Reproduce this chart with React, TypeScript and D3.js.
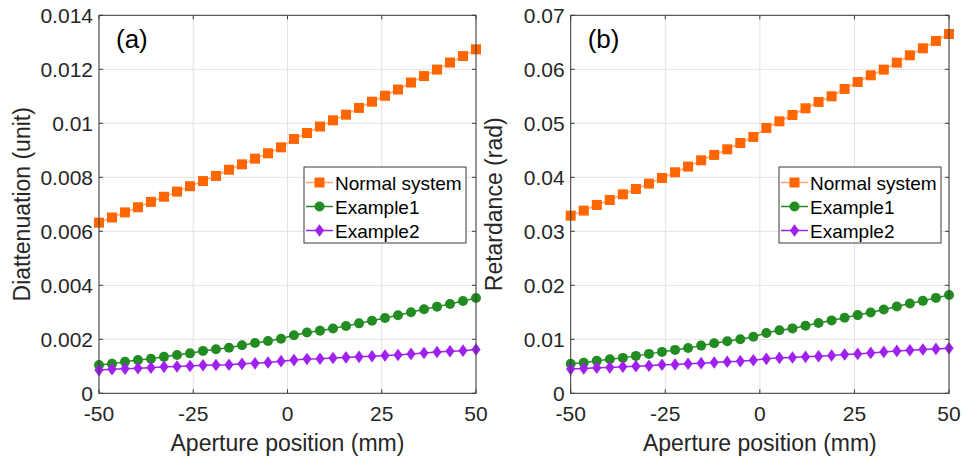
import React, { useEffect, useRef } from "react";
import * as d3 from "d3";

// aperture positions (mm), 30 samples
const positions = [
  -50, -46.55, -43.1, -39.66, -36.21, -32.76, -29.31, -25.86, -22.41, -18.97,
  -15.52, -12.07, -8.62, -5.17, -1.72, 1.72, 5.17, 8.62, 12.07, 15.52,
  18.97, 22.41, 25.86, 29.31, 32.76, 36.21, 39.66, 43.1, 46.55, 50,
];

// (a) diattenuation
const diatNormal = [
  0.00632, 0.00651, 0.0067, 0.00689, 0.00709, 0.00728, 0.00747, 0.00767, 0.00786, 0.00805,
  0.00828, 0.00848, 0.00869, 0.00889, 0.00911, 0.00942, 0.00964, 0.00988, 0.01011, 0.01032,
  0.01057, 0.0108, 0.01102, 0.01125, 0.01151, 0.01175, 0.01199, 0.01225, 0.01249, 0.01274,
];
const diatEx1 = [
  0.00105, 0.00109, 0.00117, 0.00123, 0.00128, 0.00135, 0.00142, 0.00148, 0.00157, 0.00163,
  0.00169, 0.00178, 0.00186, 0.00194, 0.00202, 0.00215, 0.00225, 0.00232, 0.0024, 0.00249,
  0.00259, 0.00269, 0.00279, 0.00289, 0.003, 0.00311, 0.00321, 0.00331, 0.00342, 0.00353,
];
const diatEx2 = [
  0.00086, 0.00089, 0.00091, 0.00093, 0.00095, 0.00098, 0.00099, 0.00101, 0.00104, 0.00105,
  0.00106, 0.00109, 0.00111, 0.00114, 0.00119, 0.00123, 0.00127, 0.00128, 0.00131, 0.00133,
  0.00135, 0.00137, 0.0014, 0.00142, 0.00146, 0.00149, 0.00153, 0.00156, 0.00158, 0.00162,
];

// (b) retardance
const retNormal = [
  0.0329, 0.03383, 0.03488, 0.0358, 0.03685, 0.03784, 0.03883, 0.03988, 0.04093, 0.04198,
  0.04315, 0.04414, 0.04519, 0.04636, 0.04747, 0.04914, 0.05037, 0.05154, 0.05278, 0.05395,
  0.055, 0.05636, 0.05765, 0.05889, 0.05994, 0.06123, 0.06259, 0.06389, 0.06525, 0.06654,
];
const retEx1 = [
  0.00546, 0.00564, 0.00601, 0.00632, 0.00656, 0.00693, 0.0073, 0.00767, 0.00804, 0.0084,
  0.00883, 0.00926, 0.00963, 0.01, 0.01046, 0.01117, 0.01166, 0.01202, 0.01252, 0.01301,
  0.0135, 0.01399, 0.01448, 0.01497, 0.01552, 0.01607, 0.01663, 0.01712, 0.01767, 0.01822,
];
const retEx2 = [
  0.00448, 0.0046, 0.00472, 0.00479, 0.00491, 0.00503, 0.00509, 0.00528, 0.00534, 0.00546,
  0.00558, 0.00571, 0.00583, 0.00595, 0.00613, 0.00638, 0.00656, 0.00663, 0.00675, 0.00687,
  0.00699, 0.00718, 0.0073, 0.00748, 0.00767, 0.00785, 0.00798, 0.0081, 0.00822, 0.00834,
];

const seriesNames = ["Normal system", "Example1", "Example2"];
const xTicks = [-50, -25, 0, 25, 50];
const yTicksA = [0, 0.002, 0.004, 0.006, 0.008, 0.01, 0.012, 0.014];
const yTicksB = [0, 0.01, 0.02, 0.03, 0.04, 0.05, 0.06, 0.07];

const FONT = "'Liberation Sans', Arial, Helvetica, sans-serif";
const styles = [
  { marker: "square", fill: "#FF6600", line: "#FFA66E" },
  { marker: "circle", fill: "#228B22", line: "#228B22" },
  { marker: "diamond", fill: "#A020F0", line: "#A020F0" },
];

const App = () => {
  const svgRef = useRef<SVGSVGElement | null>(null);

  useEffect(() => {
    const svg = d3.select(svgRef.current);
    svg.selectAll("*").remove();

    const drawMarker = (g: any, kind: string, cx: number, cy: number, color: string) => {
      if (kind === "square") {
        g.append("rect").attr("x", cx - 5).attr("y", cy - 5).attr("width", 10).attr("height", 10).attr("fill", color);
      } else if (kind === "circle") {
        g.append("circle").attr("cx", cx).attr("cy", cy).attr("r", 5).attr("fill", color);
      } else {
        g.append("path")
          .attr("d", `M${cx},${cy - 6.3}L${cx + 4.6},${cy}L${cx},${cy + 6.3}L${cx - 4.6},${cy}Z`)
          .attr("fill", color);
      }
    };

    const panel = (opts: any) => {
      const { left, right, top, bottom, yMax, yTicks, data, ylabel, tag } = opts;
      const x = d3.scaleLinear().domain([-50, 50]).range([left, right]);
      const y = d3.scaleLinear().domain([0, yMax]).range([bottom, top]);
      const g = svg.append("g");

      // grid
      g.selectAll(".gx").data(xTicks).enter().append("line")
        .attr("x1", (d) => x(d)).attr("x2", (d) => x(d))
        .attr("y1", top).attr("y2", bottom)
        .attr("stroke", "#e3e3e3").attr("stroke-width", 1);
      g.selectAll(".gy").data(yTicks).enter().append("line")
        .attr("x1", left).attr("x2", right)
        .attr("y1", (d: number) => y(d)).attr("y2", (d: number) => y(d))
        .attr("stroke", "#e3e3e3").attr("stroke-width", 1);

      // series
      data.forEach((vals: number[], si: number) => {
        const st = styles[si];
        const line = d3.line<number>().x((_, i) => x(positions[i])).y((d) => y(d));
        g.append("path").attr("d", line(vals)!).attr("fill", "none")
          .attr("stroke", st.line).attr("stroke-width", 1.5);
        vals.forEach((v, i) => drawMarker(g, st.marker, x(positions[i]), y(v), st.fill));
      });

      // box + ticks
      g.append("rect").attr("x", left).attr("y", top).attr("width", right - left).attr("height", bottom - top)
        .attr("fill", "none").attr("stroke", "#3a3a3a").attr("stroke-width", 1);
      xTicks.forEach((t) => {
        g.append("line").attr("x1", x(t)).attr("x2", x(t)).attr("y1", bottom).attr("y2", bottom - 4).attr("stroke", "#3a3a3a");
        g.append("line").attr("x1", x(t)).attr("x2", x(t)).attr("y1", top).attr("y2", top + 4).attr("stroke", "#3a3a3a");
        g.append("text").attr("x", x(t)).attr("y", bottom + 28).attr("text-anchor", "middle")
          .attr("font-family", FONT).attr("font-size", 21).attr("fill", "#262626").text(String(t));
      });
      yTicks.forEach((t: number) => {
        g.append("line").attr("x1", left).attr("x2", left + 4).attr("y1", y(t)).attr("y2", y(t)).attr("stroke", "#3a3a3a");
        g.append("line").attr("x1", right).attr("x2", right - 4).attr("y1", y(t)).attr("y2", y(t)).attr("stroke", "#3a3a3a");
        g.append("text").attr("x", left - 6).attr("y", y(t) + 7.5).attr("text-anchor", "end")
          .attr("font-family", FONT).attr("font-size", 21).attr("fill", "#262626")
          .text(t === 0 ? "0" : d3.format("~g")(t));
      });

      // axis labels
      g.append("text").attr("x", (left + right) / 2).attr("y", 451).attr("text-anchor", "middle")
        .attr("font-family", FONT).attr("font-size", 23).attr("fill", "#262626").text("Aperture position (mm)");
      g.append("text").attr("transform", `translate(${left - 69},${(top + bottom) / 2}) rotate(-90)`)
        .attr("text-anchor", "middle").attr("font-family", FONT).attr("font-size", 23).attr("fill", "#262626")
        .text(ylabel);

      g.append("text").attr("x", left + 17).attr("y", 48).attr("font-family", FONT).attr("font-size", 26)
        .attr("fill", "#000").text(tag);

      // legend
      const lx = opts.legendX, ly = 167, lw = 162, lh = 76;
      g.append("rect").attr("x", lx).attr("y", ly).attr("width", lw).attr("height", lh)
        .attr("fill", "#fff").attr("stroke", "#3a3a3a").attr("stroke-width", 1);
      seriesNames.forEach((name, i) => {
        const cy = ly + 15.5 + i * 24;
        const st = styles[i];
        g.append("line").attr("x1", lx + 2).attr("x2", lx + 29).attr("y1", cy).attr("y2", cy)
          .attr("stroke", st.line).attr("stroke-width", 1.5);
        drawMarker(g, st.marker, lx + 15.5, cy, st.fill);
        g.append("text").attr("x", lx + 31).attr("y", cy + 7).attr("font-family", FONT)
          .attr("font-size", 19).attr("fill", "#000").text(name);
      });
    };

    panel({
      left: 99, right: 476, top: 15.3, bottom: 393.3, yMax: 0.014, yTicks: yTicksA,
      data: [diatNormal, diatEx1, diatEx2], ylabel: "Diattenuation (unit)", tag: "(a)", legendX: 304,
    });
    panel({
      left: 570.7, right: 949, top: 15.3, bottom: 393.3, yMax: 0.07, yTicks: yTicksB,
      data: [retNormal, retEx1, retEx2], ylabel: "Retardance (rad)", tag: "(b)", legendX: 779,
    });
  }, []);

  return (
    <svg
      ref={svgRef}
      width={964}
      height={459}
      style={{ position: "absolute", left: 0, top: 0, background: "#fff" }}
    ></svg>
  );
};

export default App;
